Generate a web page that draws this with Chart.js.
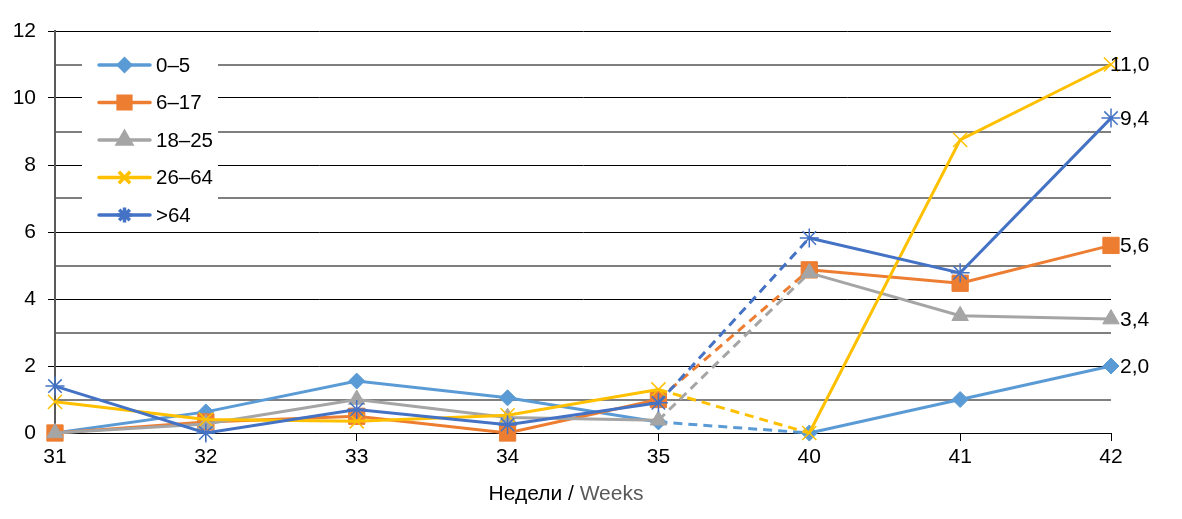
<!DOCTYPE html>
<html><head><meta charset="utf-8">
<script src="https://cdn.jsdelivr.net/npm/chart.js@4"></script>
<style>html,body{margin:0;padding:0;background:#fff;}</style>
</head><body>
<canvas id="c" width="1182" height="519"></canvas>
<script>
const weeks = ['31','32','33','34','35','40','41','42'];
const s0_5   = [0, 0.63, 1.55, 1.05, 0.33, 0, 1.0, 2.0];
const s6_17  = [0, 0.33, 0.5, 0, 1.0, 4.87, 4.47, 5.6];
const s18_25 = [0, 0.27, 1.0, 0.46, 0.38, 4.78, 3.5, 3.4];
const s26_64 = [0.93, 0.4, 0.35, 0.53, 1.3, 0, 8.75, 11.0];
const s64    = [1.4, 0, 0.7, 0.25, 0.9, 5.82, 4.78, 9.4];
const seriesNames = ['0–5', '6–17', '18–25', '26–64', '>64'];
const axisTitleA = 'Недели / ';
const axisTitleB = 'Weeks';

const FONT = '"Liberation Sans", Arial, sans-serif';
const colors = ['#5B9BD5', '#ED7D31', '#A5A5A5', '#FFC000', '#4472C4'];
const styles = ['rectRot', 'rect', 'triangle', 'crossRot', 'star'];
const radii = [8, 11.5, 9.5, 10, 9.5];
const legRadii = [6, 9, 8, 8, 7.5];
const labelOffsets = [9, 9, 9, -1, 9];
const seriesData = [s0_5, s6_17, s18_25, s26_64, s64];

const datasets = seriesData.map((d, i) => ({
  label: seriesNames[i],
  data: d,
  borderColor: colors[i],
  backgroundColor: colors[i],
  pointBackgroundColor: colors[i],
  pointBorderColor: colors[i],
  borderWidth: 3,
  pointStyle: styles[i],
  pointRadius: radii[i],
  pointBorderWidth: (styles[i] === 'crossRot' || styles[i] === 'star') ? 1.5 : 1,
  tension: 0,
  fill: false,
  clip: false,
  order: 4 - i,
  legRadius: legRadii[i],
  labelOffset: labelOffsets[i],
  segment: {
    borderDash: ctx => ctx.p0DataIndex === 4 ? [9, 6] : undefined
  }
}));

const legendPlugin = {
  id: 'customLegend',
  beforeDatasetsDraw(chart) {
    const ctx = chart.ctx;
    ctx.save();
    ctx.fillStyle = '#fff';
    ctx.fillRect(82, 44, 136, 187);
    chart.data.datasets.forEach((ds, i) => {
      const y = 65 + i * 37.5;
      ctx.strokeStyle = ds.borderColor;
      ctx.lineWidth = 3.5;
      ctx.lineCap = 'round';
      ctx.setLineDash([]);
      ctx.beginPath(); ctx.moveTo(99, y); ctx.lineTo(150, y); ctx.stroke();
      ctx.lineCap = 'butt';
      ctx.fillStyle = ds.borderColor;
      ctx.strokeStyle = ds.borderColor;
      Chart.helpers.drawPoint(ctx, {pointStyle: ds.pointStyle, radius: ds.legRadius, borderWidth: ds.pointBorderWidth, rotation: 0}, 124.5, y);
      ctx.fillStyle = '#000';
      ctx.font = '20.5px ' + FONT;
      ctx.textAlign = 'left';
      ctx.textBaseline = 'middle';
      ctx.fillText(ds.label, 156, y + 1);
    });
    ctx.restore();
  },
  afterDatasetsDraw(chart) {
    const ctx = chart.ctx;
    ctx.save();
    ctx.fillStyle = '#000';
    ctx.font = '21px ' + FONT;
    ctx.textAlign = 'left';
    ctx.textBaseline = 'middle';
    chart.data.datasets.forEach((ds, i) => {
      const meta = chart.getDatasetMeta(i);
      const pt = meta.data[meta.data.length - 1];
      const v = ds.data[ds.data.length - 1];
      ctx.fillText(v.toFixed(1).replace('.', ','), pt.x + ds.labelOffset, pt.y + 1);
    });
    // x axis title
    ctx.font = '21px ' + FONT;
    const wA = ctx.measureText(axisTitleA).width;
    const wB = ctx.measureText(axisTitleB).width;
    const x0 = 566 - (wA + wB) / 2;
    ctx.fillStyle = '#000';
    ctx.fillText(axisTitleA, x0, 494);
    ctx.fillStyle = '#595959';
    ctx.fillText(axisTitleB, x0 + wA, 494);
    ctx.restore();
  }
};

new Chart(document.getElementById('c'), {
  type: 'line',
  data: { labels: weeks, datasets },
  plugins: [legendPlugin],
  options: {
    responsive: false,
    animation: false,
    layout: { padding: { left: 0, right: 71, top: 31, bottom: 0 } },
    plugins: { legend: { display: false }, tooltip: { enabled: false } },
    scales: {
      x: {
        offset: false,
        grid: { drawOnChartArea: false, drawTicks: true, tickLength: 8, color: '#000', lineWidth: 1 },
        border: { color: '#000', width: 1 },
        ticks: { color: '#000', font: { size: 21, family: FONT }, padding: 4, maxRotation: 0 },
        afterFit(scale) { scale.height = 86; }
      },
      y: {
        min: 0, max: 12,
        grid: {
          color: c => (c.tick && c.tick.value % 2 === 0) ? '#000' : '#7f7f7f',
          lineWidth: c => (c.tick && c.tick.value % 2 === 0) ? 1 : 2,
          tickColor: c => (c.tick && c.tick.value % 2 === 0) ? '#000' : 'rgba(0,0,0,0)',
          tickLength: 7
        },
        border: { color: '#595959', width: 2 },
        ticks: {
          stepSize: 1,
          color: '#000',
          font: { size: 21, family: FONT },
          padding: 12,
          callback: v => v % 2 === 0 ? String(v) : ''
        },
        afterFit(scale) { scale.width = 55; }
      }
    }
  }
});
</script>
</body></html>
